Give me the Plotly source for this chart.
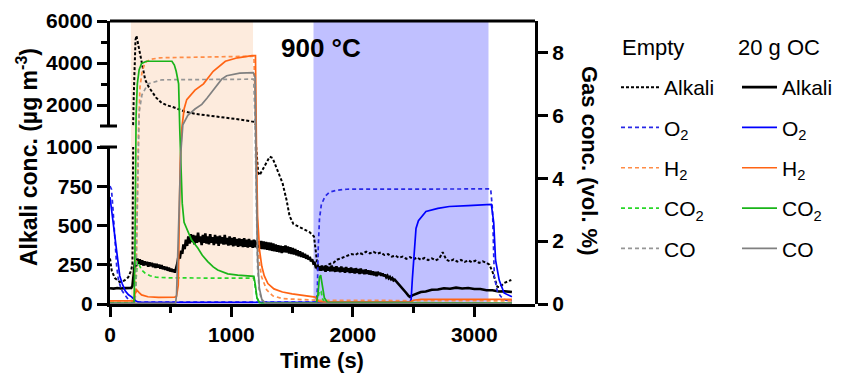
import plotly.graph_objects as go

FONT = "Arial, 'Liberation Sans', Helvetica, sans-serif"

# ---------------- data ----------------
reduction_period = [172, 1178]     # s (peach band)
oxidation_period = [1676, 3117]    # s (blue band)

# Empty reactor: alkali (ug m-3)
t_alk_empty = [0, 15, 40, 80, 120, 150, 175, 185, 190, 196, 203, 210, 218, 228, 240, 260, 290, 320, 345, 380,
               425, 470, 510, 560, 616, 700, 781, 850, 918, 1000, 1080, 1164, 1190, 1205, 1220, 1232, 1273, 1315,
               1339, 1380, 1421, 1454, 1479, 1510, 1537, 1586, 1643, 1680, 1692, 1705, 1720,
               1750, 1780, 1810, 1840, 1870, 1900, 1930, 1960, 1990, 2020, 2050, 2080, 2110, 2140, 2170, 2200,
               2230, 2260, 2290, 2320, 2350, 2380, 2410, 2440, 2470, 2500, 2530, 2560, 2590, 2620, 2650, 2680,
               2710, 2740, 2770, 2800, 2830, 2860, 2890, 2920, 2950, 2980, 3010, 3040, 3070, 3100, 3125,
               3150, 3170, 3190, 3210, 3246, 3280, 3305]
alk_empty = [290, 210, 165, 140, 150, 170, 215, 260, 900, 2500, 4200, 5100, 5300, 5000, 4600, 4000, 3200, 2850, 2620, 2350,
             2100, 1980, 1920, 1800, 1690, 1580, 1520, 1480, 1440, 1380, 1300, 1220, 1200, 985, 840, 820, 875, 938,
             930, 854, 770, 662, 560, 510, 500, 484, 458, 430, 350, 268, 225,
             232, 242, 255, 262, 282, 290, 302, 305, 318, 312, 326, 318, 334, 322, 332, 320,
             328, 312, 318, 302, 308, 294, 302, 288, 299, 285, 296, 282, 293, 280, 291, 278,
             288, 330, 282, 272, 284, 270, 281, 268, 278, 266, 276, 262, 272, 262, 250,
             205, 150, 110, 108, 134, 145, 153]

# 20 g OC: alkali (ug m-3)
t_alk_oc = [0, 30, 60, 90, 120, 150, 175,
            185, 195, 205, 215, 225, 235, 245, 255, 265, 275, 285, 295, 305, 315, 325, 335, 345, 355, 365, 375,
            385, 395, 405, 415, 425, 435, 445, 455, 465, 475, 485, 495, 505, 515, 525, 535, 545, 555, 565, 575,
            585, 595, 605, 615, 625, 635, 645, 655, 665, 675, 685, 695, 705, 715, 725, 735, 745, 755, 765, 775,
            785, 795, 805, 815, 825, 835, 845, 855, 865, 875, 885, 895, 905, 915, 925, 935, 945, 955, 965, 975,
            985, 995, 1005, 1015, 1025, 1035, 1045, 1055, 1065, 1075, 1085, 1095, 1105, 1115, 1125, 1135, 1145,
            1155, 1165, 1175, 1185, 1195, 1205, 1215, 1225, 1235, 1245, 1255, 1265, 1275, 1285, 1295, 1305,
            1315, 1325, 1335, 1345, 1355, 1365, 1375, 1385, 1395, 1405, 1415, 1425, 1435, 1445, 1455, 1465,
            1475, 1485, 1495, 1505, 1515, 1525, 1535, 1545, 1555, 1565, 1575, 1585, 1595, 1605, 1615, 1625,
            1635, 1645, 1655, 1665, 1675, 1685, 1695, 1705, 1715, 1725, 1735, 1745, 1755, 1765, 1775, 1785,
            1795, 1805, 1815, 1825, 1835, 1845, 1855, 1865, 1875, 1885, 1895, 1905, 1915, 1925, 1935, 1945,
            1955, 1965, 1975, 1985, 1995, 2005, 2015, 2025, 2035, 2045, 2055, 2065, 2075, 2085, 2095, 2105,
            2115, 2125, 2135, 2145, 2155, 2165, 2175, 2185, 2195, 2205, 2215, 2225, 2235, 2245, 2255, 2265,
            2275, 2285, 2295, 2305, 2315, 2325, 2335, 2345,
            2360, 2380, 2400, 2420, 2440, 2460, 2470, 2490, 2520, 2560, 2600, 2650, 2700, 2750, 2800, 2850,
            2900, 2950, 3000, 3050, 3100, 3150, 3200, 3250, 3310]
alk_oc = [100, 98, 102, 99, 101, 100, 102,
          115, 190, 262, 240, 290, 255, 285, 250, 278, 245, 272, 248, 268, 238, 265, 242, 262, 235, 258, 230,
          255, 232, 250, 226, 248, 222, 240, 218, 236, 212, 232, 208, 225, 205, 220, 200, 225, 260, 310, 290,
          340, 320, 380, 350, 410, 370, 430, 385, 445, 395, 440, 380, 435, 390, 455, 395, 430, 375, 440, 390,
          450, 385, 430, 380, 445, 390, 425, 375, 440, 385, 430, 370, 435, 385, 425, 378, 440, 380, 420, 372,
          430, 375, 420, 368, 425, 372, 415, 365, 418, 370, 412, 362, 420, 365, 410, 360, 415,
          365, 405, 358, 410, 362, 405, 355, 400, 352, 402, 350, 398, 348, 395, 345, 392,
          342, 390, 338, 385, 335, 380, 332, 375, 330, 372, 325, 368, 330, 372, 328, 366,
          322, 362, 318, 356, 315, 350, 310, 342, 305, 336, 300, 328, 295, 320, 288, 312,
          282, 300, 272, 285, 258, 262, 235, 238, 215, 240, 212, 245, 215, 238, 205, 242,
          212, 236, 208, 245, 210, 235, 205, 240, 208, 232, 202, 238, 206, 230, 200, 235,
          204, 228, 198, 232, 200, 225, 195, 228, 198, 222, 192, 225, 195, 218, 190, 220,
          192, 214, 188, 212, 185, 208, 182, 205, 178, 205, 185, 200, 180, 195, 176, 188,
          170, 180, 164, 172, 158, 165, 150, 155,
          142, 128, 110, 90, 70, 50, 45, 55, 66, 76, 80, 91, 92, 100, 97, 104,
          99, 102, 96, 96, 88, 88, 80, 81, 76]

# Gas concentrations (vol. %)
t_o2_e = [0, 12, 25, 40, 55, 70, 95, 120, 150, 190, 250, 1700, 1708, 1715, 1725, 1740, 1770, 1808, 1870, 1950,
          3135, 3150, 3165, 3190, 3220, 3260, 3310]
o2_e = [3.75, 3.65, 3.0, 2.0, 1.2, 0.75, 0.45, 0.3, 0.15, 0.08, 0.06, 0.06, 0.5, 1.8, 2.7, 3.15, 3.42, 3.56, 3.62, 3.65,
        3.66, 3.0, 0.87, 0.4, 0.23, 0.12, 0.1]
t_o2_oc = [0, 12, 25, 40, 60, 80, 100, 125, 150, 180, 210, 240, 2470, 2480, 2490, 2505, 2520, 2540, 2570, 2602,
           2700, 2794, 2950, 3140, 3160, 3175, 3205, 3245, 3310]
o2_oc = [3.4, 3.0, 2.6, 2.2, 1.4, 0.9, 0.65, 0.42, 0.3, 0.22, 0.1, 0.05, 0.05, 0.15, 0.8, 1.8, 2.4, 2.65, 2.8, 2.94,
         3.04, 3.1, 3.13, 3.17, 2.6, 1.4, 0.76, 0.35, 0.23]

t_h2_e = [0, 205, 215, 225, 235, 247, 265, 288, 330, 411, 800, 1185, 1195, 1205, 1215, 1230, 1249, 1290, 1340,
          1420, 1550, 1700, 3310]
h2_e = [0.05, 0.05, 1.0, 3.5, 5.5, 6.9, 7.4, 7.67, 7.78, 7.83, 7.86, 7.88, 6.5, 3.5, 2.0, 1.3, 0.86, 0.45, 0.26,
        0.17, 0.14, 0.12, 0.1]
t_h2_oc = [0, 195, 205, 219, 240, 260, 312, 400, 534, 548, 562, 570, 578, 592, 610, 632, 700, 770, 850, 950, 1050,
           1170, 1198, 1206, 1215, 1232, 1250, 1270, 1300, 1350, 1420, 1500, 1600, 1690, 1705, 1720, 1760, 2470,
           2500, 2560, 3310]
h2_oc = [0.1, 0.1, 0.3, 0.45, 0.36, 0.29, 0.23, 0.21, 0.22, 0.25, 0.6, 2.5, 4.5, 5.6, 6.2, 6.5, 6.8, 7.0, 7.4, 7.72,
         7.83, 7.9, 7.9, 5.0, 2.8, 1.7, 1.2, 0.9, 0.65, 0.48, 0.38, 0.32, 0.26, 0.22, 0.15, 0.08, 0.06, 0.06,
         0.12, 0.15, 0.15]

t_co2_e = [0, 205, 215, 225, 240, 260, 290, 330, 380, 500, 1185, 1195, 1210, 1230, 1700, 1712, 1725, 1738, 1752,
           1770, 3310]
co2_e = [0.03, 0.03, 0.8, 1.35, 1.25, 1.08, 0.98, 0.9, 0.85, 0.83, 0.82, 0.6, 0.2, 0.04, 0.03, 0.2, 0.42, 0.4, 0.15,
         0.04, 0.03]
t_co2_oc = [0, 198, 205, 210, 215, 225, 240, 260, 300, 510, 530, 545, 565, 575, 583, 595, 610, 630, 671, 723, 760,
            805, 850, 887, 970, 1052, 1150, 1185, 1197, 1210, 1230, 1700, 1712, 1725, 1735, 1750, 1765, 1790, 3310]
co2_oc = [0.03, 0.03, 1.5, 4.0, 6.0, 7.0, 7.45, 7.65, 7.72, 7.72, 7.6, 7.4, 7.0, 5.5, 4.6, 3.2, 2.6, 2.4, 2.04, 1.78,
          1.55, 1.35, 1.18, 1.08, 0.96, 0.92, 0.89, 0.88, 0.6, 0.2, 0.04, 0.03, 0.3, 0.85, 0.92, 0.6, 0.2, 0.05, 0.03]

t_co_e = [0, 205, 212, 220, 230, 240, 263, 312, 427, 1183, 1193, 1203, 1215, 1230, 1250, 1280, 3310]
co_e = [0.02, 0.02, 0.5, 2.0, 5.0, 6.1, 6.65, 7.0, 7.13, 7.15, 6.0, 3.0, 1.2, 0.4, 0.12, 0.03, 0.02]
t_co_oc = [0, 540, 548, 556, 565, 575, 583, 600, 641, 700, 756, 800, 863, 920, 961, 1002, 1068, 1180, 1195, 1205,
           1215, 1230, 1250, 1280, 3310]
co_oc = [0.02, 0.02, 0.3, 1.5, 3.0, 4.2, 4.8, 5.7, 6.0, 6.2, 6.35, 6.55, 6.88, 7.15, 7.26, 7.3, 7.34, 7.36, 7.2, 4.0,
         1.5, 0.5, 0.15, 0.03, 0.02]

# ---------------- styles ----------------
C_BLUE_D, C_BLUE = "rgb(40,40,230)", "rgb(0,0,255)"
C_OR_D, C_OR = "rgb(255,140,70)", "rgb(255,100,20)"
C_GR_D, C_GR = "rgb(40,215,40)", "rgb(25,180,25)"
C_GY_D, C_GY = "rgb(150,150,150)", "rgb(128,128,128)"
DASH_GAS = "4px,3px"
DASH_ALK = "3px,2px"

fig = go.Figure()


def add_alkali(t, v, name, color, width, dash, legend, group):
    fig.add_trace(go.Scatter(x=t, y=v, mode="lines", name=name, yaxis="y",
                             line=dict(color=color, width=width, dash=dash),
                             legend=legend, legendgroup=group, showlegend=True))
    fig.add_trace(go.Scatter(x=t, y=v, mode="lines", name=name, yaxis="y2",
                             line=dict(color=color, width=width, dash=dash),
                             legend=legend, legendgroup=group, showlegend=False))


def add_gas(t, v, name, color, dash, legend, group):
    fig.add_trace(go.Scatter(x=t, y=v, mode="lines", name=name, yaxis="y3",
                             line=dict(color=color, width=1.7, dash=dash),
                             legend=legend, legendgroup=group))


# Empty (dashed) legend
add_alkali(t_alk_empty, alk_empty, "Alkali", "black", 2.0, DASH_ALK, "legend", "e_alk")
add_gas(t_o2_e, o2_e, "O<sub>2</sub>", C_BLUE_D, DASH_GAS, "legend", "e_o2")
add_gas(t_h2_e, h2_e, "H<sub>2</sub>", C_OR_D, DASH_GAS, "legend", "e_h2")
add_gas(t_co2_e, co2_e, "CO<sub>2</sub>", C_GR_D, DASH_GAS, "legend", "e_co2")
add_gas(t_co_e, co_e, "CO", C_GY_D, DASH_GAS, "legend", "e_co")
# 20 g OC (solid) legend
add_alkali(t_alk_oc, alk_oc, "Alkali", "black", 2.6, "solid", "legend2", "o_alk")
add_gas(t_o2_oc, o2_oc, "O<sub>2</sub>", C_BLUE, "solid", "legend2", "o_o2")
add_gas(t_h2_oc, h2_oc, "H<sub>2</sub>", C_OR, "solid", "legend2", "o_h2")
add_gas(t_co2_oc, co2_oc, "CO<sub>2</sub>", C_GR, "solid", "legend2", "o_co2")
add_gas(t_co_oc, co_oc, "CO", C_GY, "solid", "legend2", "o_co")

# ---------------- layout ----------------
# page body has an 8 px margin, so figure coords = screen coords - 8
OFF = 8
L, R, T, B = 110 - OFF, 843 - 535 + OFF, 21 - OFF, 375 - 304 + OFF
PW, PH = 843 - L - R, 375 - T - B
X0S, Y0S = 110, 21  # screen position of plot area top-left


def px(xs):
    return (xs - X0S) / PW


def py(ys):
    return 1 - (ys - Y0S) / PH


lower_dom = [0, py(147)]
upper_dom = [py(126), 1]

tickfont = dict(family=FONT, size=21, color="black", weight="bold")
axis_common = dict(showline=True, linewidth=3, linecolor="black", ticks="outside", ticklen=10, tickwidth=3,
                   tickcolor="black", showgrid=False, zeroline=False, tickfont=tickfont, automargin=False)

legend_common = dict(font=dict(family=FONT, size=21, color="black"), bgcolor="rgba(0,0,0,0)",
                     tracegroupgap=10, yanchor="top", xanchor="left",
                     traceorder="grouped", itemclick=False, itemdoubleclick=False)

fig.update_layout(
    width=843, height=375,
    margin=dict(l=L, r=R, t=T, b=B, autoexpand=False),
    paper_bgcolor="white", plot_bgcolor="rgba(0,0,0,0)",
    font=dict(family=FONT, color="black"),
    xaxis=dict(domain=[0, 1], range=[0, 3500], anchor="y", tickvals=[0, 1000, 2000, 3000],
               minor=dict(tickvals=[500, 1500, 2500], ticks="outside", ticklen=6, tickwidth=3, tickcolor="black"),
               **axis_common),
    yaxis=dict(domain=lower_dom, range=[0, 1000], anchor="x", tickvals=[0, 250, 500, 750, 1000], **axis_common),
    yaxis2=dict(domain=upper_dom, range=[1000, 6000], anchor="x", tickvals=[2000, 4000, 6000],
                minor=dict(tickvals=[3000, 5000], ticks="outside", ticklen=6, tickwidth=3, tickcolor="black"),
                **axis_common),
    yaxis3=dict(domain=[0, 1], range=[0, 9], anchor="x", side="right", tickvals=[0, 2, 4, 6, 8], **axis_common),
    legend=dict(x=px(616), y=py(67), itemwidth=38, **legend_common),
    legend2=dict(x=px(737), y=py(67), itemwidth=35, **legend_common),
    shapes=[
        dict(type="rect", xref="x", yref="paper", x0=reduction_period[0], x1=reduction_period[1], y0=0, y1=1,
             fillcolor="rgb(253,235,221)", line=dict(width=0), layer="below"),
        dict(type="rect", xref="x", yref="paper", x0=oxidation_period[0], x1=oxidation_period[1], y0=0, y1=1,
             fillcolor="rgb(192,192,255)", line=dict(width=0), layer="below"),
        dict(type="line", xref="paper", yref="paper", x0=0, x1=1, y0=1, y1=1, line=dict(color="black", width=3)),
        dict(type="line", xref="paper", yref="paper", x0=-10 / PW, x1=7 / PW, y0=lower_dom[1], y1=lower_dom[1],
             line=dict(color="black", width=3)),
        dict(type="line", xref="paper", yref="paper", x0=-10 / PW, x1=7 / PW, y0=upper_dom[0], y1=upper_dom[0],
             line=dict(color="black", width=3)),
    ],
    annotations=[
        dict(text="<b>900 °C</b>", xref="paper", yref="paper", x=px(321), y=py(48),
             showarrow=False, font=dict(family=FONT, size=26, color="black"), xanchor="center", yanchor="middle"),
        dict(text="<b>Alkali conc. (µg m<sup>-3</sup>)</b>", xref="paper", yref="paper", x=px(27),
             y=py(157), textangle=-90, showarrow=False, font=dict(family=FONT, size=23, color="black"),
             xanchor="center", yanchor="middle"),
        dict(text="<b>Gas conc. (vol. %)</b>", xref="paper", yref="paper", x=px(590),
             y=py(161), textangle=90, showarrow=False, font=dict(family=FONT, size=22, color="black"),
             xanchor="center", yanchor="middle"),
        dict(text="<b>Time (s)</b>", xref="paper", yref="paper", x=px(322), y=py(360),
             showarrow=False, font=dict(family=FONT, size=22, color="black"), xanchor="center", yanchor="middle"),
        dict(text="Empty", xref="paper", yref="paper", x=px(620), y=py(47), showarrow=False,
             font=dict(family=FONT, size=22, color="black"), xanchor="left", yanchor="middle"),
        dict(text="20 g OC", xref="paper", yref="paper", x=px(736), y=py(47), showarrow=False,
             font=dict(family=FONT, size=22, color="black"), xanchor="left", yanchor="middle"),
    ],
)

fig.write_html("out.html")
